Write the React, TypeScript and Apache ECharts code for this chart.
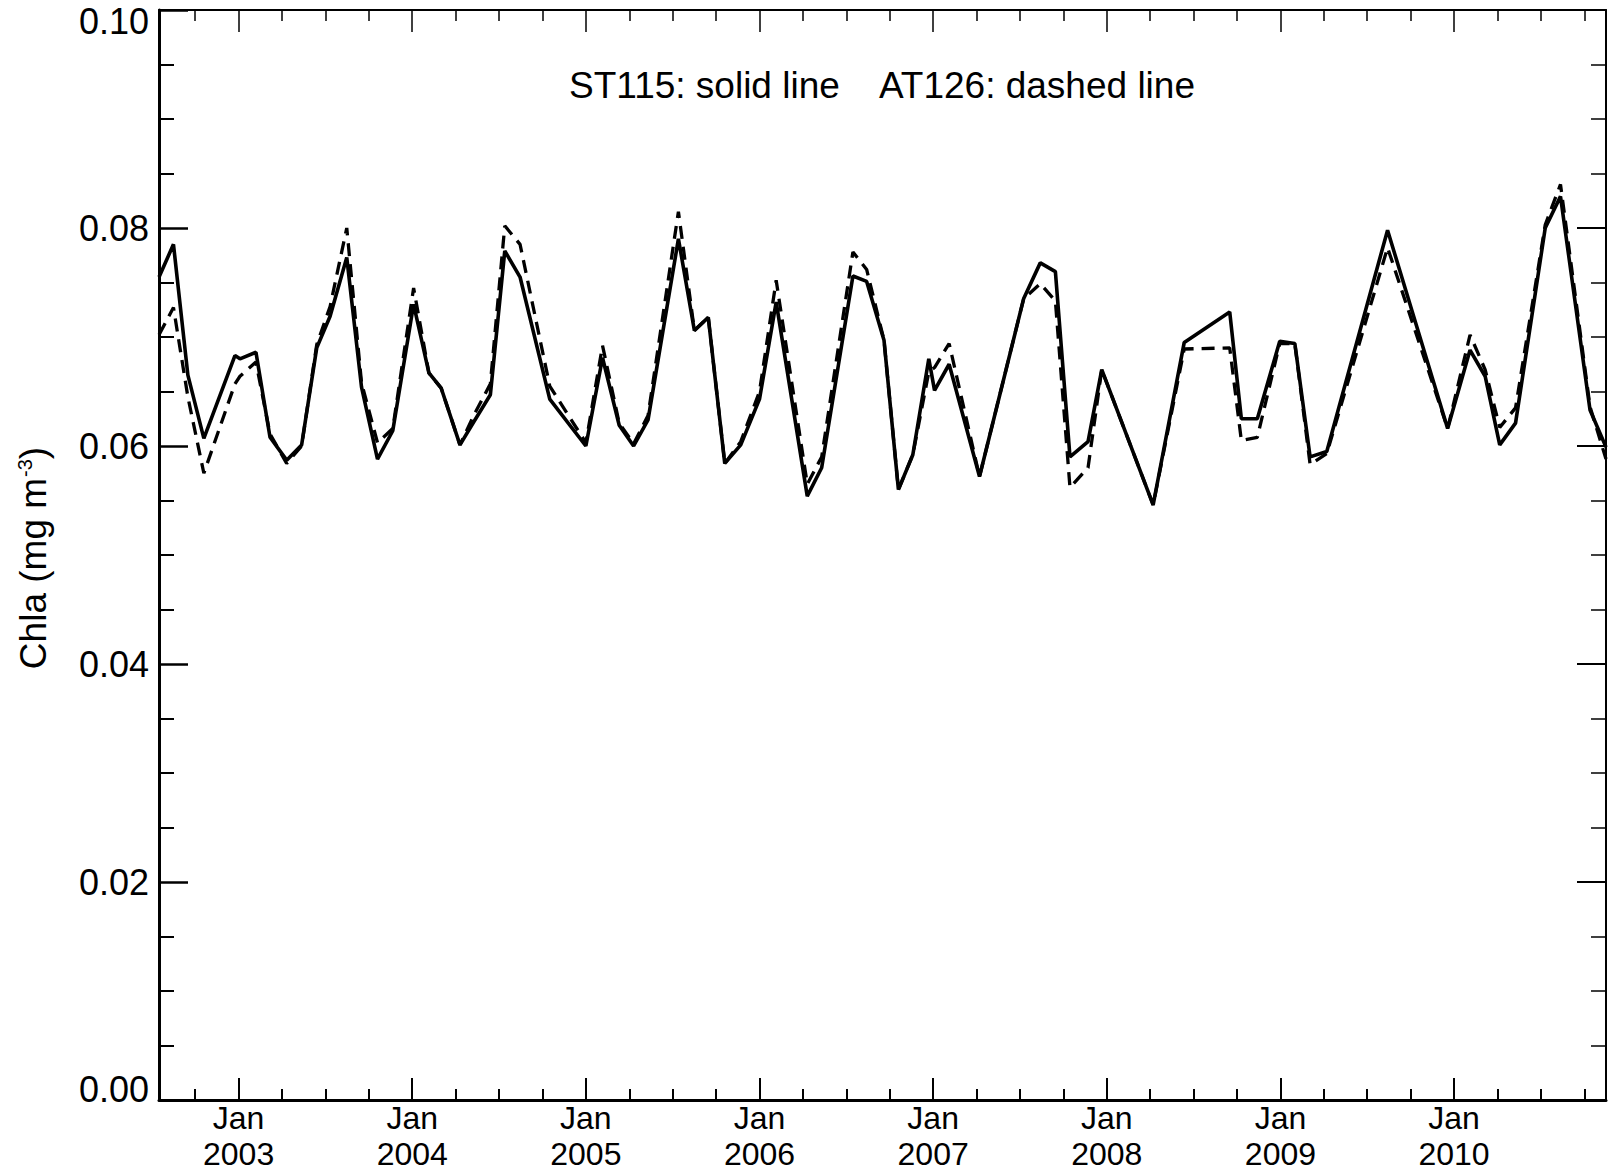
import React, { useEffect, useRef } from 'react';
import * as echarts from 'echarts';

// Sample dates in decimal years (positions)
const dates = [
  2002.542, 2002.625, 2002.708, 2002.800, 2002.979, 2003.008, 2003.100, 2003.181,
  2003.277, 2003.363, 2003.450, 2003.527, 2003.623, 2003.708, 2003.800, 2003.888,
  2004.008, 2004.096, 2004.167, 2004.275, 2004.354, 2004.450, 2004.533, 2004.621,
  2004.792, 2005.000, 2005.096, 2005.192, 2005.275, 2005.358, 2005.533, 2005.625,
  2005.705, 2005.800, 2005.892, 2006.000, 2006.096, 2006.275, 2006.358, 2006.538,
  2006.617, 2006.717, 2006.800, 2006.883, 2006.975, 2007.008, 2007.092, 2007.267,
  2007.521, 2007.617, 2007.704, 2007.788, 2007.892, 2007.971, 2008.267, 2008.446,
  2008.708, 2008.775, 2008.867, 2008.996, 2009.083, 2009.171, 2009.267, 2009.617,
  2009.963, 2010.092, 2010.179, 2010.263, 2010.354, 2010.525, 2010.613, 2010.783,
  2010.875,
];

// ST115 (solid line), Chla mg m^-3
const st115 = [
  0.0755, 0.0785, 0.0665, 0.0607, 0.0683, 0.0680, 0.0686, 0.0608,
  0.0587, 0.0601, 0.0690, 0.0719, 0.0773, 0.0654, 0.0588, 0.0614,
  0.0730, 0.0667, 0.0653, 0.0601, 0.0622, 0.0647, 0.0779, 0.0755,
  0.0643, 0.0600, 0.0681, 0.0619, 0.0600, 0.0624, 0.0790, 0.0706,
  0.0718, 0.0584, 0.0601, 0.0643, 0.0732, 0.0554, 0.0580, 0.0756,
  0.0751, 0.0697, 0.0560, 0.0592, 0.0680, 0.0651, 0.0675, 0.0572,
  0.0735, 0.0768, 0.0760, 0.0590, 0.0604, 0.0670, 0.0546, 0.0695,
  0.0723, 0.0625, 0.0625, 0.0696, 0.0694, 0.0590, 0.0595, 0.0798,
  0.0616, 0.0688, 0.0664, 0.0601, 0.0621, 0.0800, 0.0829, 0.0633,
  0.0599,
];

// AT126 (dashed line)
const at126 = [
  0.0702, 0.0727, 0.0645, 0.0575, 0.0657, 0.0664, 0.0677, 0.0611,
  0.0584, 0.0600, 0.0693, 0.0728, 0.0800, 0.0658, 0.0603, 0.0616,
  0.0745, 0.0667, 0.0653, 0.0601, 0.0628, 0.0657, 0.0802, 0.0785,
  0.0655, 0.0603, 0.0692, 0.0621, 0.0602, 0.0628, 0.0815, 0.0706,
  0.0718, 0.0584, 0.0604, 0.0650, 0.0752, 0.0565, 0.0590, 0.0778,
  0.0762, 0.0697, 0.0560, 0.0592, 0.0668, 0.0672, 0.0694, 0.0572,
  0.0735, 0.0749, 0.0733, 0.0562, 0.0580, 0.0670, 0.0546, 0.0689,
  0.0690, 0.0605, 0.0608, 0.0694, 0.0694, 0.0583, 0.0593, 0.0782,
  0.0616, 0.0702, 0.0670, 0.0617, 0.0635, 0.0803, 0.0840, 0.0636,
  0.0588,
];

const yearTicks = [2003, 2004, 2005, 2006, 2007, 2008, 2009, 2010];
const quarterOffsets = [3 / 12, 6 / 12, 9 / 12];
const X_MIN = 2002 + 6.5 / 12;
const X_MAX = 2010 + 10.5 / 12;

const FONT = '"Liberation Sans", Arial, Helvetica, sans-serif';

export default function App() {
  const ref = useRef<HTMLDivElement>(null);

  useEffect(() => {
    if (!ref.current) return;
    const chart = echarts.init(ref.current, undefined, { renderer: 'svg' });

    const quarterTicks: number[] = [];
    for (let y = 2002; y <= 2010; y++) {
      quarterOffsets.forEach((q) => {
        const v = y + q;
        if (v > X_MIN && v < X_MAX) quarterTicks.push(v);
      });
    }

    const mkX = (pos: 'top' | 'bottom', major: boolean, labels: boolean, lineW: number) => ({
      type: 'value',
      min: X_MIN,
      max: X_MAX,
      position: pos,
      axisLine: { show: major, onZero: false, lineStyle: { color: '#000', width: lineW } },
      axisTick: {
        show: true,
        inside: true,
        length: major ? 22 : 11,
        customValues: major ? yearTicks : quarterTicks,
        lineStyle: { color: '#000', width: pos === 'bottom' ? 2 : 1.5 },
      },
      axisLabel: labels
        ? {
            show: true,
            customValues: yearTicks,
            formatter: (v: number) => 'Jan\n' + Math.round(v),
            color: '#000',
            fontFamily: FONT,
            fontSize: 32,
            lineHeight: 36,
            margin: 0,
          }
        : { show: false },
      splitLine: { show: false },
    });

    const option = {
      animation: false,
      backgroundColor: '#fff',
      textStyle: { fontFamily: FONT },
      grid: { left: 159, right: 6, top: 10, bottom: 72 },
      graphic: [
        {
          type: 'text',
          x: 882,
          y: 85,
          style: {
            text: 'ST115: solid line    AT126: dashed line',
            fill: '#000',
            font: '37px ' + FONT,
            textAlign: 'center',
            textVerticalAlign: 'middle',
          },
        },
      ],
      xAxis: [
        mkX('bottom', true, true, 3),
        mkX('bottom', false, false, 0),
        mkX('top', true, false, 2),
        mkX('top', false, false, 0),
      ],
      yAxis: [
        {
          type: 'value',
          min: 0,
          max: 0.1,
          interval: 0.02,
          position: 'left',
          axisLine: { show: true, onZero: false, lineStyle: { color: '#000', width: 3 } },
          axisTick: { show: true, inside: true, length: 29, lineStyle: { color: '#000', width: 2.5 } },
          minorTick: { show: true, splitNumber: 4, length: 15, lineStyle: { color: '#000', width: 2 } },
          axisLabel: {
            formatter: (v: number) => v.toFixed(2),
            color: '#000',
            fontFamily: FONT,
            fontSize: 36,
            lineHeight: 22,
            margin: 10,
            verticalAlignMinLabel: 'bottom',
            verticalAlignMaxLabel: 'top',
          },
          splitLine: { show: false },
          name: 'Chla (mg m{sup|-3})',
          nameLocation: 'middle',
          nameRotate: 90,
          nameGap: 107,
          nameTextStyle: {
            color: '#000',
            fontFamily: FONT,
            fontSize: 37,
            padding: [0, 6, 0, 0],
            rich: {
              sup: { fontSize: 20, verticalAlign: 'top', color: '#000', fontFamily: FONT, padding: [0, 0, 0, 1] },
            },
          },
        },
        {
          type: 'value',
          min: 0,
          max: 0.1,
          interval: 0.02,
          position: 'right',
          axisLine: { show: true, onZero: false, lineStyle: { color: '#000', width: 2 } },
          axisTick: { show: true, inside: true, length: 29, lineStyle: { color: '#000', width: 2 } },
          minorTick: { show: true, splitNumber: 4, length: 15, lineStyle: { color: '#000', width: 1.5 } },
          axisLabel: { show: false },
          splitLine: { show: false },
        },
      ],
      series: [
        {
          name: 'ST115',
          type: 'line',
          xAxisIndex: 0,
          yAxisIndex: 0,
          data: dates.map((d, i) => [d, st115[i]]),
          showSymbol: false,
          connectNulls: true,
          lineStyle: { color: '#000', width: 3.6, type: 'solid' },
          z: 3,
        },
        {
          name: 'AT126',
          type: 'line',
          xAxisIndex: 0,
          yAxisIndex: 0,
          data: dates.map((d, i) => [d, at126[i]]),
          showSymbol: false,
          connectNulls: true,
          lineStyle: { color: '#000', width: 3.3, type: [13, 8] },
          z: 4,
        },
      ],
    };

    chart.setOption(option as any);
    return () => chart.dispose();
  }, []);

  return (
    <div
      ref={ref}
      style={{ position: 'absolute', left: 0, top: 0, width: 1612, height: 1172, background: '#fff' }}
    />
  );
}
